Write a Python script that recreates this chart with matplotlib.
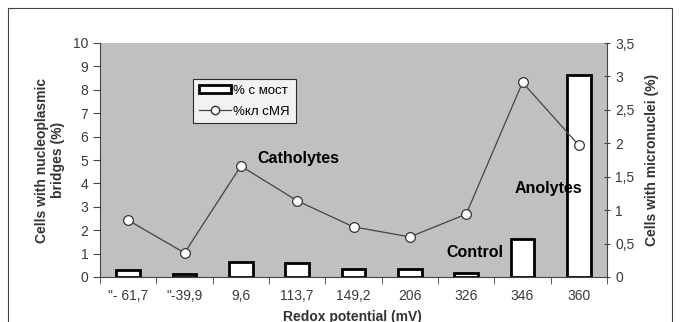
import matplotlib
matplotlib.use("Agg")
import matplotlib.pyplot as plt
from matplotlib.patches import Rectangle
from matplotlib.lines import Line2D
from matplotlib.patches import Patch

categories = ['"- 61,7', '"-39,9', '9,6', '113,7', '149,2', '206', '326', '346', '360']
bridges = [0.30, 0.12, 0.64, 0.60, 0.34, 0.34, 0.15, 1.62, 8.63]
micronuclei = [0.85, 0.36, 1.66, 1.14, 0.75, 0.60, 0.94, 2.91, 1.97]
left_ticks = list(range(0, 11))
right_ticks = [0, 0.5, 1, 1.5, 2, 2.5, 3, 3.5]
right_labels = ["0", "0,5", "1", "1,5", "2", "2,5", "3", "3,5"]

plt.rcParams['font.family'] = ['Liberation Sans', 'DejaVu Sans']

fig = plt.figure(figsize=(6.81, 3.22), dpi=100)
fig.patches.append(Rectangle((8/681, -0.1), (672-8)/681, (322-8)/322 + 0.1,
                             transform=fig.transFigure, fill=False,
                             edgecolor='#444444', linewidth=0.8))

ax = fig.add_axes([100/681, (322-277)/322, (607-100)/681, (277-43)/322])
ax.set_facecolor('#c0c0c0')
x = list(range(len(categories)))
ax.bar(x, bridges, width=0.42, color='white', edgecolor='black', linewidth=2, zorder=2)
ax.set_xlim(-0.5, len(categories) - 0.5)
ax.set_ylim(0, 10)
ax.set_yticks(left_ticks)
ax.set_yticklabels([str(t) for t in left_ticks])
ax.set_xticks(x)
ax.set_xticklabels(categories)
ax.set_xticks([i + 0.5 for i in range(-1, len(categories))], minor=True)
ax.tick_params(axis='x', which='major', length=0, pad=9, labelsize=10, labelcolor='#3a3a3a')
ax.tick_params(axis='x', which='minor', length=5, direction='out', color='#444444')
ax.tick_params(axis='y', length=5, direction='out', labelsize=10, labelcolor='#3a3a3a', color='#444444')
for s in ['top', 'right']:
    ax.spines[s].set_visible(False)
ax.spines['left'].set_color('#444444')
ax.spines['bottom'].set_color('#444444')

ax2 = ax.twinx()
ax2.plot(x, micronuclei, color='#444444', linewidth=0.9, marker='o', markersize=7,
         markerfacecolor='white', markeredgecolor='#333333', markeredgewidth=0.9, zorder=3)
ax2.set_ylim(0, 3.5)
ax2.set_yticks(right_ticks)
ax2.set_yticklabels(right_labels)
ax2.tick_params(axis='y', length=5, direction='inout', labelsize=10, labelcolor='#3a3a3a', color='#444444')
for s in ['top', 'left', 'bottom']:
    ax2.spines[s].set_visible(False)
ax2.spines['right'].set_color('#444444')

fig.text(50/681, (322-160)/322, "Cells with nucleoplasmic\nbridges (%)", rotation=90,
         ha='center', va='center', fontsize=10, fontweight='bold', color='#333333', linespacing=1.2)
fig.text(652/681, (322-160)/322, "Cells with micronuclei (%)", rotation=90,
         ha='center', va='center', fontsize=10, fontweight='bold', color='#333333')
fig.text(352/681, (322-310)/322, "Redox potential (mV)", ha='center', va='top',
         fontsize=10, fontweight='bold', color='#333333')

ax.text(3.02, 5.08, "Catholytes", fontsize=11.5, fontweight='bold', ha='center', va='center', zorder=5)
ax.text(6.16, 1.03, "Control", fontsize=11.5, fontweight='bold', ha='center', va='center', zorder=5)
ax.text(7.46, 3.8, "Anolytes", fontsize=11.5, fontweight='bold', ha='center', va='center', zorder=5)

handles = [Patch(facecolor='white', edgecolor='black', linewidth=2),
           Line2D([0], [0], color='#444444', linewidth=0.9, marker='o', markersize=6,
                  markerfacecolor='white', markeredgecolor='#333333')]
leg = ax2.legend(handles, ['% с мост', '%кл сМЯ'], loc='upper left',
                 bbox_to_anchor=((193-100)/507, (277-79)/234), frameon=True, fancybox=False,
                 edgecolor='black', fontsize=9.5, handlelength=2.4, handleheight=0.6,
                 borderpad=0.45, labelspacing=0.65, handletextpad=0.2, borderaxespad=0)
leg.get_frame().set_linewidth(0.8)

fig.savefig("out.png", dpi=100)
